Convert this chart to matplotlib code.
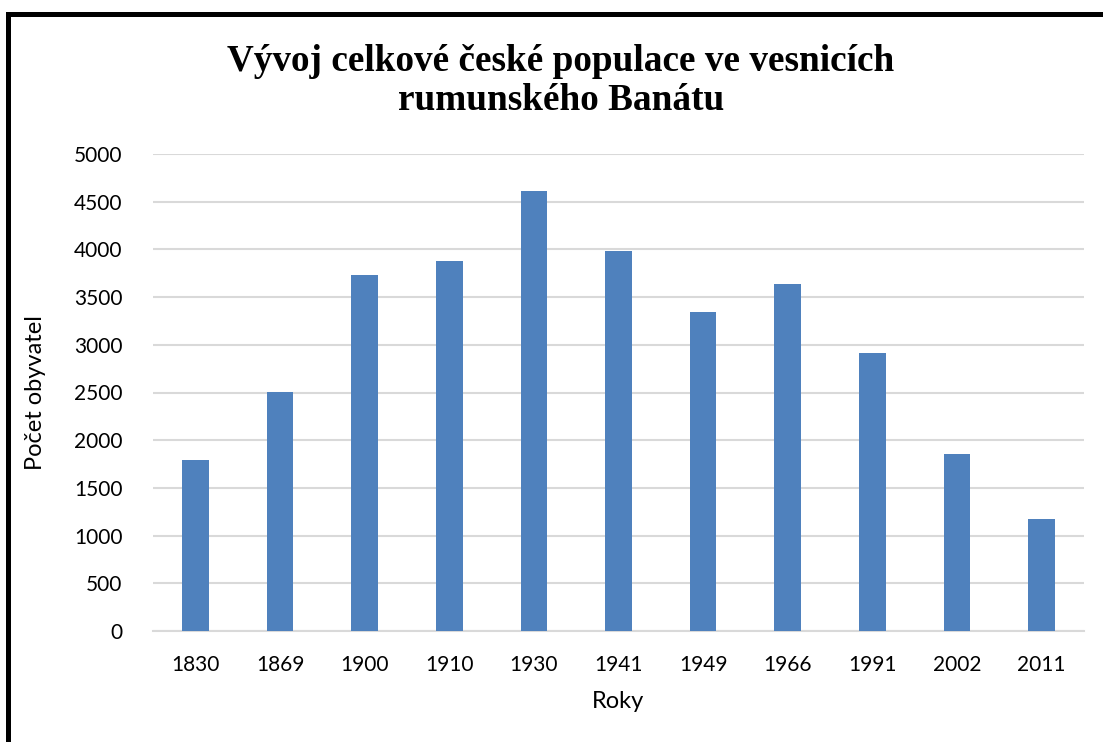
import matplotlib
matplotlib.use("Agg")
import matplotlib.pyplot as plt
from matplotlib.patches import Rectangle

years = ["1830", "1869", "1900", "1910", "1930", "1941", "1949", "1966", "1991", "2002", "2011"]
population = [1790, 2510, 3730, 3875, 4610, 3980, 3345, 3635, 2915, 1855, 1170]
yticks = [0, 500, 1000, 1500, 2000, 2500, 3000, 3500, 4000, 4500, 5000]

title = "Vývoj celkové české populace ve vesnicích\nrumunského Banátu"
xlabel = "Roky"
ylabel = "Počet obyvatel"

W, H, DPI = 1103, 742, 100
fig = plt.figure(figsize=(W / DPI, H / DPI), dpi=DPI, facecolor="white")
ax = fig.add_axes([153 / W, 1 - 631 / H, (1084 - 153) / W, (631 - 154) / H])

x = list(range(len(years)))
ax.bar(x, population, width=0.315, color="#4f81bd", zorder=3)
ax.set_xlim(-0.5, len(years) - 0.5)
ax.set_ylim(0, 5000)
ax.set_yticks(yticks)
ax.set_xticks(x)
ax.set_xticklabels(years)
ax.yaxis.grid(True, color="#d9d9d9", linewidth=1.5, zorder=0)
ax.set_axisbelow(True)
for s in ["top", "right", "left"]:
    ax.spines[s].set_visible(False)
ax.spines["bottom"].set_color("#d9d9d9")
ax.spines["bottom"].set_linewidth(1.5)
ax.tick_params(axis="both", length=0, labelsize=15, colors="black")
ax.tick_params(axis="y", pad=22)
ax.tick_params(axis="x", pad=17)
for lab in ax.get_xticklabels() + ax.get_yticklabels():
    lab.set_fontfamily("Lato")

ax.set_xlabel(xlabel, fontsize=17, fontfamily="Lato", labelpad=12)
ax.set_ylabel(ylabel, fontsize=17, fontfamily="Lato", labelpad=20)

fig.text(561 / W, 1 - 81 / H, title, ha="center", va="center", fontsize=26.8,
         fontweight="bold", fontfamily="Liberation Serif", linespacing=1.15)

# frame lines (top and left)
fig.add_artist(Rectangle((6 / W, 0), 5 / W, 1 - 12 / H, transform=fig.transFigure,
                         color="black", lw=0))
fig.add_artist(Rectangle((6 / W, 1 - 17 / H), 1 - 6 / W, 5 / H, transform=fig.transFigure,
                         color="black", lw=0))

fig.savefig("out.png", dpi=DPI, facecolor="white")
